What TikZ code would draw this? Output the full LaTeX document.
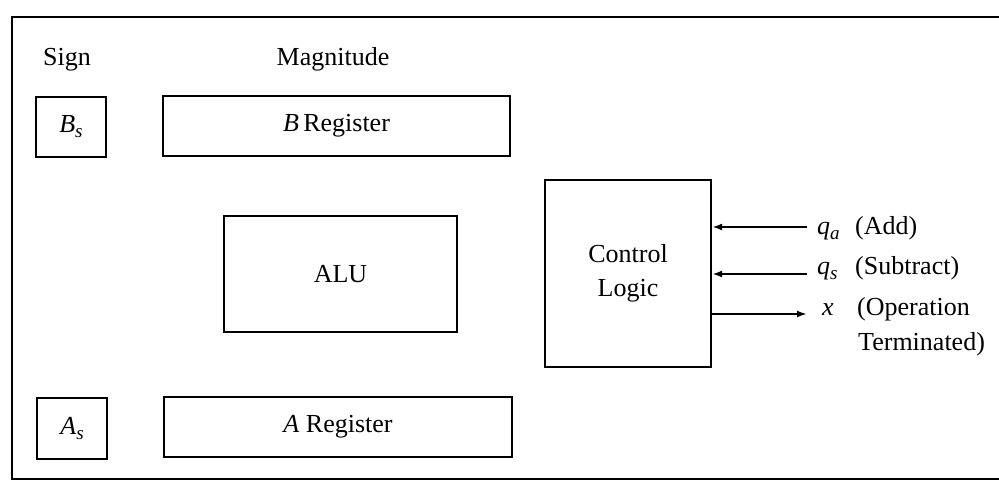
\documentclass[tikz,border=0pt]{standalone}
\usepackage{fontspec}
\setmainfont{Liberation Serif}
\usetikzlibrary{arrows.meta}
\newcommand{\subi}[2]{\textit{#1}\raisebox{-5pt}{\fontsize{19}{19}\selectfont\textit{#2}}}
\begin{document}
\begin{tikzpicture}[x=1pt,y=-1pt,
  box/.style={draw,line width=2.2pt,inner sep=0pt,align=center},
  lbl/.style={anchor=base west,inner sep=0pt},
  sig/.style={line width=2.2pt,-{Latex[length=10pt,width=7pt]}},
  every node/.style={font=\fontsize{26}{34}\selectfont}]
\useasboundingbox (0,0) rectangle (999,481);
\draw[line width=2.4pt] (999,17) -- (12,17) -- (12,479) -- (999,479);
\node[lbl,anchor=base] (sign) at (67,66) {Sign};
\node[lbl,anchor=base] (mag) at (333,66) {Magnitude};
\node[box,minimum width=70pt,minimum height=60pt] (bs) at (71,127) {\subi{B}{s}};
\node[box,minimum width=347pt,minimum height=60pt] (breg) at (336.5,126) {\textit{B}\,Register};
\node[box,minimum width=233pt,minimum height=116pt] (alu) at (340.5,274) {ALU};
\node[box,minimum width=166pt,minimum height=187pt] (cl) at (628,273.5) {Control\\Logic};
\node[box,minimum width=70pt,minimum height=61pt] (as) at (72,428.5) {\subi{A}{s}};
\node[box,minimum width=348pt,minimum height=60pt] (areg) at (338,427) {\textit{A} Register};
\coordinate (qa) at (807,227);
\coordinate (qs) at (807,274);
\coordinate (xo) at (807,314);
\draw[sig] (qa) -- (qa -| cl.east);
\draw[sig] (qs) -- (qs -| cl.east);
\draw[sig] (xo -| cl.east) -- (xo);
\node[lbl] (qal) at (817,235) {\subi{q}{a}};
\node[lbl] (qat) at (855,235) {(Add)};
\node[lbl] (qsl) at (817,275) {\subi{q}{s}};
\node[lbl] (qst) at (855,275) {(Subtract)};
\node[lbl] (xl) at (822,315) {\textit{x}};
\node[lbl] (xt1) at (857,315) {(Operation};
\node[lbl] (xt2) at (858,350) {Terminated)};
\end{tikzpicture}
\end{document}
